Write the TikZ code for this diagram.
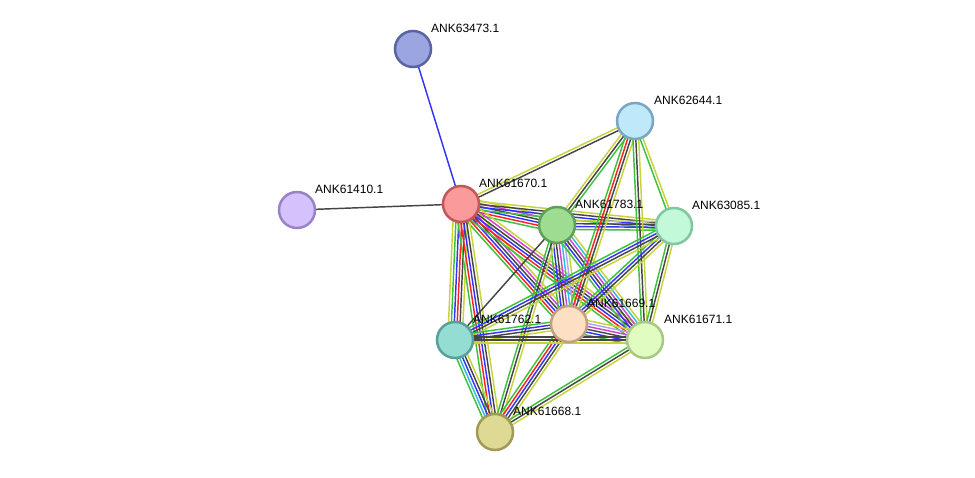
\documentclass[tikz,border=0pt]{standalone}
\usepackage{fontspec}
\setmainfont{Liberation Sans}
\usetikzlibrary{calc,backgrounds}
\definecolor{cnb}{HTML}{3CC13C}
\definecolor{cfu}{HTML}{FF2020}
\definecolor{cco}{HTML}{3333FF}
\definecolor{cex}{HTML}{454545}
\definecolor{cxp}{HTML}{CC44CC}
\definecolor{cdb}{HTML}{33BBDD}
\definecolor{ctm}{HTML}{C6D43A}
\definecolor{cho}{HTML}{A8A8F8}
\newcommand\edg[3]{%
  \foreach \c [count=\k] in {#3}{\xdef\ncol{\k}}%
  \foreach \c [count=\k] in {#3}{%
    \draw[line width=1.45pt,draw=\c] let \p1=($(#2)-(#1)$), \n1={atan2(\y1,\x1)+90}, \n2={(\k-(\ncol+1)/2)*2.9} in
      ($(#1)+(\n1:\n2 pt)$) -- ($(#2)+(\n1:\n2 pt)$);
  }}
\tikzset{
  nd/.style={circle,minimum size=36pt,inner sep=0pt,line width=2.5pt},
  lbl/.style={anchor=west,inner sep=0pt,font=\fontsize{12}{14}\selectfont,text=black}
}
\begin{document}
\begin{tikzpicture}[x=1pt,y=-1pt]
\useasboundingbox (0,0) rectangle (975,478);
\node[nd,fill={rgb,255:red,155;green,165;blue,224},draw={rgb,255:red,90;green,100;blue,160}] (a) at (413,49) {};
\node[nd,fill={rgb,255:red,192;green,232;blue,251},draw={rgb,255:red,122;green,166;blue,194}] (b) at (635,121) {};
\node[nd,fill={rgb,255:red,212;green,194;blue,252},draw={rgb,255:red,154;green,130;blue,200}] (c) at (297,210) {};
\node[nd,fill={rgb,255:red,251;green,154;blue,154},draw={rgb,255:red,192;green,88;blue,88}] (d) at (461,204) {};
\node[nd,fill={rgb,255:red,158;green,220;blue,146},draw={rgb,255:red,94;green,160;blue,90}] (e) at (557,225) {};
\node[nd,fill={rgb,255:red,193;green,249;blue,217},draw={rgb,255:red,128;green,200;blue,160}] (f) at (674,226) {};
\node[nd,fill={rgb,255:red,253;green,224;blue,196},draw={rgb,255:red,192;green,160;blue,128}] (g) at (569,324) {};
\node[nd,fill={rgb,255:red,148;green,221;blue,211},draw={rgb,255:red,90;green,160;blue,154}] (h) at (455,340) {};
\node[nd,fill={rgb,255:red,224;green,252;blue,192},draw={rgb,255:red,168;green,200;blue,136}] (i) at (645,340) {};
\node[nd,fill={rgb,255:red,222;green,218;blue,148},draw={rgb,255:red,160;green,154;blue,88}] (j) at (495,432) {};
\begin{pgfonlayer}{background}
\fill[white] (0,0) rectangle (975,478);
\edg{a}{d}{cco}
\edg{c}{d}{cex}
\edg{d}{b}{cex,ctm}
\edg{d}{e}{cnb,cfu,cco,cex,cxp,ctm}
\edg{d}{f}{cnb,cco,cex,ctm}
\edg{d}{g}{cnb,cfu,cco,cex,cxp,ctm}
\edg{d}{i}{cnb,cfu,cco,cex,cxp,ctm}
\edg{d}{h}{ctm,cnb,cco,cfu,cex,ctm}
\edg{d}{j}{cnb,cfu,cco,cex,ctm}
\edg{e}{b}{cnb,cex,ctm}
\edg{e}{f}{cnb,cco,cex,ctm}
\edg{e}{h}{cex}
\edg{e}{g}{cnb,cco,cex,cxp,cdb,cho,ctm}
\edg{e}{i}{cnb,cco,cex,cxp,cdb,ctm}
\edg{e}{j}{cnb,cex,ctm}
\edg{b}{f}{cnb,ctm}
\edg{b}{g}{cnb,cfu,cex,ctm}
\edg{b}{i}{cnb,cex,ctm}
\edg{f}{g}{cnb,cco,cex,ctm}
\edg{f}{h}{cnb,cco,cex,ctm}
\edg{f}{i}{cnb,cex,ctm}
\edg{g}{h}{cnb,cco,cex,ctm}
\edg{g}{i}{cnb,cco,cex,cxp,cho,ctm}
\edg{g}{j}{cnb,cfu,cco,cex,ctm}
\edg{h}{i}{ctm,cex,cex}
\edg{h}{j}{cnb,cdb,cco,cex,ctm}
\edg{i}{j}{cnb,cex,ctm}
\end{pgfonlayer}
\node[lbl] (ta) at (431,28) {ANK63473.1};
\node[lbl] (tb) at (654,100) {ANK62644.1};
\node[lbl] (tc) at (315,189) {ANK61410.1};
\node[lbl] (td) at (479,183) {ANK61670.1};
\node[lbl] (te) at (575,204) {ANK61783.1};
\node[lbl] (tf) at (692,205) {ANK63085.1};
\node[lbl] (tg) at (587,303) {ANK61669.1};
\node[lbl] (th) at (473,319) {ANK61762.1};
\node[lbl] (ti) at (664,319) {ANK61671.1};
\node[lbl] (tj) at (513,411) {ANK61668.1};
\end{tikzpicture}
\end{document}
